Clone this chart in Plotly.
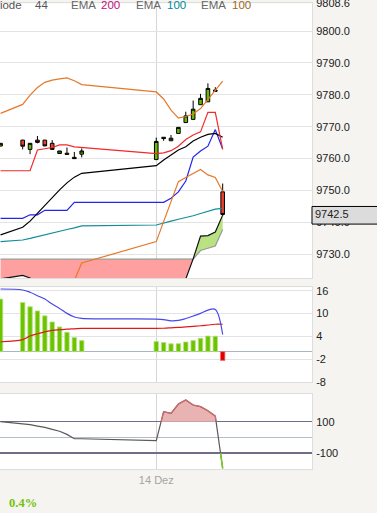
import plotly.graph_objects as go

# ---------------- data ----------------
pos = [0, 3, 4, 5, 6, 7, 8, 9, 10, 11,
       21.1, 22.1, 23.1, 24.1, 25.1, 26.1, 27.1, 28.1, 29.1, 30.1]

open_ = [9763.95, 9765.8, 9762.9, 9765.8, 9765.8, 9764.8, 9761.6, 9761.7, 9760.4, 9761.4,
         9759.7, 9766.7, 9765.6, 9767.9, 9771.3, 9772.3, 9776.9, 9777.8, 9781.5, 9749.6]
high = [9764.9, 9765.9, 9764.9, 9767.1, 9765.9, 9765.8, 9762.4, 9763.5, 9762.1, 9763.2,
        9766.6, 9766.7, 9767.4, 9769.8, 9774.7, 9778.2, 9780.3, 9783.6, 9782.4, 9752.2]
low = [9763.9, 9762.9, 9761.4, 9764.8, 9763.9, 9762.8, 9761.6, 9761.35, 9760.0, 9760.4,
       9759.6, 9765.6, 9765.6, 9767.9, 9771.3, 9772.3, 9776.9, 9777.8, 9781.1, 9742.0]
close = [9764.8, 9763.9, 9764.8, 9765.1, 9764.0, 9762.9, 9762.4, 9761.35, 9760.0, 9762.4,
         9765.4, 9766.3, 9766.4, 9769.8, 9773.4, 9775.5, 9778.9, 9782.0, 9781.1, 9742.5]

bb_upper = [9774.2, 9777.0, 9779.9, 9782.3, 9783.9, 9784.6, 9785.0, 9785.3, 9784.4, 9783.2,
            9780.9, 9778.7, 9775.2, 9772.7, 9773.2, 9774.0, 9775.7, 9778.5, 9781.5, 9784.3]
bb_mid = [9736.1, 9738.5, 9740.4, 9742.9, 9745.5, 9748.0, 9750.2, 9752.4, 9754.2, 9755.4,
          9757.8, 9759.6, 9761.1, 9762.7, 9763.7, 9765.5, 9766.7, 9767.6, 9767.9, 9766.7]
bb_lower = [9698.0, 9700.0, 9700.9, 9703.5, 9707.1, 9711.4, 9715.4, 9719.5, 9721.8, 9727.3,
            9734.0, 9740.4, 9746.4, 9752.8, 9754.1, 9755.4, 9756.6, 9754.9, 9754.1, 9749.7]
red_line = [9756.2, 9756.2, 9756.2, 9762.7, 9763.1, 9763.5, 9764.3, 9764.3, 9763.7, 9763.5,
            9761.6, 9761.8, 9762.5, 9763.9, 9766.0, 9767.4, 9768.4, 9774.5, 9774.5, 9762.9]
blue_line = [9741.3, 9741.3, 9742.4, 9742.4, 9743.8, 9743.8, 9743.8, 9743.8, 9746.3, 9746.3,
             9746.3, 9746.3, 9747.6, 9749.6, 9753.0, 9760.5, 9762.4, 9763.9, 9769.1, 9763.0]
teal_line = [9734.0, 9734.5, 9735.0, 9735.6, 9736.1, 9736.7, 9737.2, 9737.8, 9738.3, 9738.9,
             9739.2, 9739.9, 9740.4, 9741.0, 9741.5, 9742.1, 9742.8, 9743.5, 9744.2, 9744.4]
span_gray = [9728.5, 9728.5, 9728.5, 9728.5, 9728.5, 9728.5, 9728.5, 9728.5, 9728.5, 9728.5,
             9728.5, 9728.5, 9728.5, 9728.5, 9728.5, 9728.5, 9731.2, 9732.0, 9732.6, 9737.8]
span_black = [9722.3, 9723.4, 9722.6, 9721.0, 9720.0, 9719.0, 9718.5, 9718.0, 9717.5, 9717.0,
              9714.0, 9714.0, 9715.0, 9717.0, 9722.3, 9728.6, 9735.7, 9735.9, 9737.0, 9742.3]

macd_hist = [13.8, 12.9, 11.8, 10.7, 9.4, 7.8, 6.5, 5.1, 3.7, 2.9,
             2.65, 2.4, 2.05, 2.1, 2.55, 2.9, 3.5, 4.1, 4.05, -2.3]
macd_blue = [16.45, 16.2, 15.6, 14.7, 13.8, 12.5, 11.35, 10.05, 9.1, 8.75,
             8.55, 8.4, 8.1, 8.2, 8.7, 9.35, 10.05, 10.9, 11.1, 4.5]
macd_red = [2.6, 3.15, 4.1, 4.7, 5.2, 5.6, 5.75, 5.9, 6.0, 6.1,
            6.1, 6.15, 6.25, 6.35, 6.5, 6.65, 6.8, 7.0, 7.2, 7.2]

cci = [100, 87, 81, 72, 64, 51, 39, 19, -9, -9,
       -21, 164, 154, 213, 239, 207, 196, 170, 136, -198]

price_ticks = [9730, 9740, 9750, 9760, 9770, 9780, 9790, 9800, 9808.6]
macd_ticks = [16, 10, 4, -2, -8]
cci_ticks = [100, -100]
date_tick_pos = [21.1]
date_tick_text = ["14 Dez"]
legend_items = [("Periode", "#555555"), ("44", "#555555"), ("EMA", "#666666"), ("200", "#c0107a"),
                ("EMA", "#666666"), ("100", "#00879c"), ("EMA", "#666666"), ("100", "#9a6a24")]
change_text = "0.4%"

# ---------------- layout geometry (px) ----------------
W, H = 377, 513
PLOT_W = 312
SLOT_PX = 7.38
X0 = -0.073
X1 = X0 + PLOT_W / SLOT_PX


def ydom(top, bottom):
    return [1 - bottom / H, 1 - top / H]


P_TOP, P_BOT = 3.4, 278.3
M_TOP, M_BOT = 287.3, 382.3
C_TOP, C_BOT = 394.0, 469.3
P_RANGE = [9722.5, 9808.65]
M_RANGE = [-8.05, 16.9]
C_RANGE = [-204, 277]


def insert_crossings(xs, a, b):
    """insert points where series a crosses series b"""
    ox, oa, ob = [xs[0]], [a[0]], [b[0]]
    for i in range(1, len(xs)):
        d0 = a[i - 1] - b[i - 1]
        d1 = a[i] - b[i]
        if d0 * d1 < 0:
            t = d0 / (d0 - d1)
            ox.append(xs[i - 1] + t * (xs[i] - xs[i - 1]))
            va = a[i - 1] + t * (a[i] - a[i - 1])
            oa.append(va)
            ob.append(va)
        ox.append(xs[i]); oa.append(a[i]); ob.append(b[i])
    return ox, oa, ob


fig = go.Figure()

# ---- cloud ----
cx, cb, cg = insert_crossings(pos, span_black, span_gray)
lo_pink = [min(b, g) for b, g in zip(cb, cg)]
hi_green = [max(b, g) for b, g in zip(cb, cg)]
fig.add_trace(go.Scatter(x=cx, y=lo_pink, mode="lines", line=dict(width=0), hoverinfo="skip",
                         xaxis="x", yaxis="y"))
fig.add_trace(go.Scatter(x=cx, y=cg, mode="lines", line=dict(width=0), fill="tonexty",
                         fillcolor="#ffa0a0", hoverinfo="skip", xaxis="x", yaxis="y"))
fig.add_trace(go.Scatter(x=cx, y=cg, mode="lines", line=dict(width=0), hoverinfo="skip",
                         xaxis="x", yaxis="y"))
fig.add_trace(go.Scatter(x=cx, y=hi_green, mode="lines", line=dict(width=0), fill="tonexty",
                         fillcolor="#b9e283", hoverinfo="skip", xaxis="x", yaxis="y"))
fig.add_trace(go.Scatter(x=pos, y=span_gray, mode="lines", line=dict(color="#999999", width=1.2),
                         xaxis="x", yaxis="y"))
fig.add_trace(go.Scatter(x=pos, y=span_black, mode="lines", line=dict(color="#111111", width=1.2),
                         xaxis="x", yaxis="y"))

# ---- lines ----
for ys, col in [(teal_line, "#138c99"), (blue_line, "#2424f0"), (bb_mid, "#000000"),
                (red_line, "#f22a2a"), (bb_upper, "#e5792a"), (bb_lower, "#e5792a")]:
    fig.add_trace(go.Scatter(x=pos, y=ys, mode="lines", line=dict(color=col, width=1.2),
                             xaxis="x", yaxis="y"))

# ---- candles ----
fig.add_trace(go.Candlestick(
    x=pos, open=open_, high=high, low=low, close=close,
    increasing=dict(fillcolor="#66bb00", line=dict(color="#000000", width=1)),
    decreasing=dict(fillcolor="#e8402a", line=dict(color="#000000", width=1)),
    whiskerwidth=0, xaxis="x", yaxis="y"))

# ---- MACD ----
bar_cols = ["#6cc400" if v >= 0 else "#e00000" for v in macd_hist]
bar_edges = ["#b6e27e" if v >= 0 else "#f07070" for v in macd_hist]
fig.add_trace(go.Bar(x=pos, y=macd_hist, width=0.6, marker=dict(color=bar_cols,
                     line=dict(color=bar_edges, width=0.8)), xaxis="x2", yaxis="y2"))
fig.add_trace(go.Scatter(x=pos, y=macd_red, mode="lines", line=dict(color="#e01818", width=1.2),
                         line_shape="spline", xaxis="x2", yaxis="y2"))
fig.add_trace(go.Scatter(x=pos, y=macd_blue, mode="lines", line=dict(color="#4848e8", width=1.2),
                         line_shape="spline", xaxis="x2", yaxis="y2"))

# ---- CCI ----
lvl_hi = [100] * len(pos)
lvl_lo = [-100] * len(pos)
hx, hc, _ = insert_crossings(pos, cci, lvl_hi)
fig.add_trace(go.Scatter(x=hx, y=[100] * len(hx), mode="lines", line=dict(width=0),
                         hoverinfo="skip", xaxis="x3", yaxis="y3"))
fig.add_trace(go.Scatter(x=hx, y=[max(v, 100) for v in hc], mode="lines", line=dict(width=0),
                         fill="tonexty", fillcolor="#e9b3b3", hoverinfo="skip",
                         xaxis="x3", yaxis="y3"))
fig.add_trace(go.Scatter(x=pos, y=cci, mode="lines", line=dict(color="#5a5a5a", width=1.2),
                         xaxis="x3", yaxis="y3"))
fig.add_trace(go.Scatter(x=hx, y=[v if v >= 100 else None for v in hc], mode="lines",
                         line=dict(color="#d46a6a", width=1.2), xaxis="x3", yaxis="y3"))
lx, lc, _ = insert_crossings(pos, cci, lvl_lo)
fig.add_trace(go.Scatter(x=lx, y=[v if v <= -100 else None for v in lc], mode="lines",
                         line=dict(color="#77cc22", width=1.5), xaxis="x3", yaxis="y3"))

# ---------------- layout ----------------
tickfont = dict(family="Liberation Sans, Arial, sans-serif", size=11, color="#222222")
xbase = dict(range=[X0, X1], domain=[0, 1], tickvals=date_tick_pos, ticktext=date_tick_text,
             showgrid=True, gridcolor="#d6d6d6", gridwidth=1, zeroline=False,
             showline=True, linecolor="#dedede", mirror=True, ticks="", fixedrange=True,
             automargin=False)
ybase = dict(side="right", showline=True, linecolor="#dedede", ticks="", tickfont=tickfont,
             ticklabelstandoff=1, fixedrange=True, automargin=False, ticklabeloverflow="allow")

fig.update_layout(
    width=W, height=H,
    margin=dict(l=0, r=W - PLOT_W, t=0, b=0, pad=0, autoexpand=False),
    paper_bgcolor="#f5f4f0", plot_bgcolor="#ffffff", showlegend=False,
    xaxis=dict(**xbase, anchor="y", showticklabels=False, rangeslider=dict(visible=False)),
    xaxis2=dict(**xbase, anchor="y2", showticklabels=False),
    xaxis3=dict(**xbase, anchor="y3", showticklabels=True,
                tickfont=dict(family="Liberation Sans, Arial, sans-serif", size=11, color="#a4a4a4")),
    yaxis=dict(**ybase, domain=ydom(P_TOP, P_BOT), range=P_RANGE, anchor="x",
               tickvals=price_ticks, ticktext=[f"{v:.1f}" for v in price_ticks],
               showgrid=True, gridcolor="#e3e3e3", zeroline=False),
    yaxis2=dict(**ybase, domain=ydom(M_TOP, M_BOT), range=M_RANGE, anchor="x2",
                tickvals=macd_ticks, ticktext=[str(v) for v in macd_ticks],
                showgrid=True, gridcolor="#e3e3e3", zeroline=True, zerolinecolor="#a9b5c5",
                zerolinewidth=1.3),
    yaxis3=dict(**ybase, domain=ydom(C_TOP, C_BOT), range=C_RANGE, anchor="x3",
                tickvals=cci_ticks, ticktext=[str(v) for v in cci_ticks],
                showgrid=True, gridcolor="#6e6e88", gridwidth=1.2, zeroline=True,
                zerolinecolor="#b4bccb", zerolinewidth=1.2),
    bargap=0,
)

# last price box
px_per_unit = (P_BOT - P_TOP) / (P_RANGE[1] - P_RANGE[0])
last = close[-1]
box_up_px, box_dn_px = 8.0, 9.6
fig.add_shape(type="rect", xref="paper", yref="y", x0=1.0, x1=1.3,
              y0=last - box_dn_px / px_per_unit, y1=last + box_up_px / px_per_unit,
              fillcolor="#dcdcdc", line=dict(color="#000000", width=1), layer="above")
fig.add_annotation(text=f"{last:.1f}", xref="paper", yref="y", x=1.0, y=last, xanchor="left",
                   yanchor="middle", xshift=1, showarrow=False, font=tickfont)

# legend line at top
leg_px = [(24, "right"), (32.7, "left"), (69.3, "left"), (99, "left"),
          (134.3, "left"), (165, "left"), (199.3, "left"), (230, "left")]
for (txt, col), (px, anc) in zip(legend_items, leg_px):
    fig.add_annotation(text=txt, xref="paper", yref="paper", x=px / PLOT_W, y=1 - 5.5 / H,
                       xanchor=anc, yanchor="middle", showarrow=False,
                       font=dict(family="Liberation Sans, Arial, sans-serif", size=11.5, color=col))

fig.add_annotation(text=f"<b>{change_text}</b>", xref="paper", yref="paper", x=6.5 / PLOT_W,
                   y=1 - 503 / H, xanchor="left", yanchor="middle", showarrow=False,
                   font=dict(family="Liberation Serif, Times New Roman, serif", size=12.5,
                             color="#74c20c"))

fig.write_html("out.html",
               config={"displayModeBar": False, "staticPlot": True},
               post_script="document.body.style.margin='0';document.body.style.padding='0';"
                           "document.body.style.overflow='hidden';")
